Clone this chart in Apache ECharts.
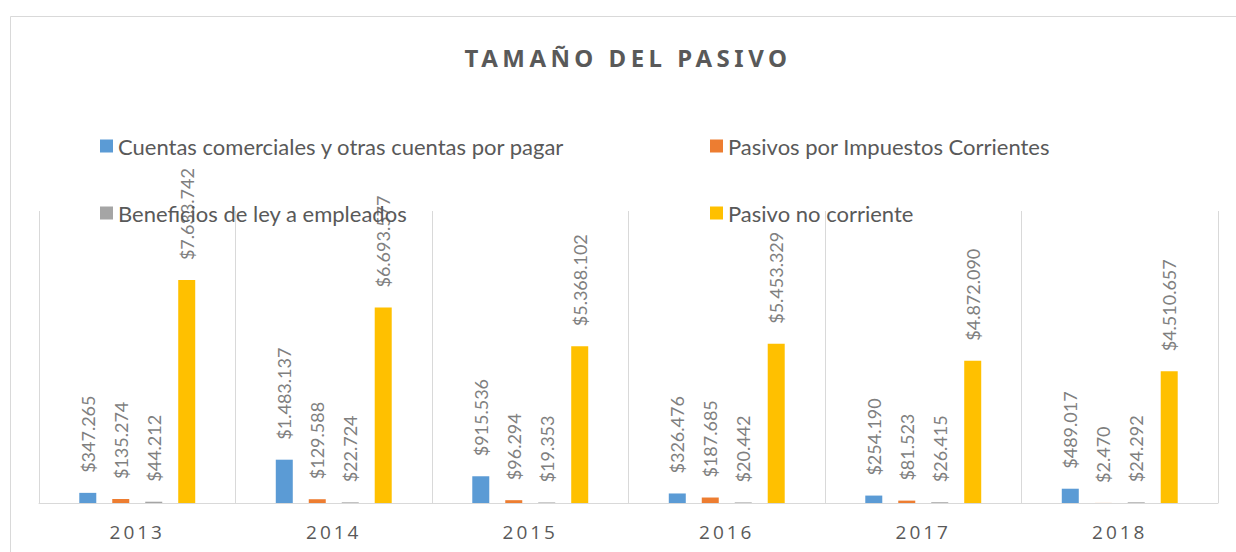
<!DOCTYPE html>
<html>
<head>
<meta charset="utf-8">
<script src="https://cdn.jsdelivr.net/npm/echarts@6/dist/echarts.min.js"></script>
<style>
  html, body { margin: 0; padding: 0; background: #ffffff; }
  #chart { width: 1236px; height: 552px; }
  svg text[style*="Noto Sans"], svg text[font-family*="Noto Sans"] { letter-spacing: 4.5px; }
  svg text[style*="Open Sans"], svg text[font-family*="Open Sans"] { letter-spacing: 3px; }
</style>
</head>
<body>
<div id="chart"></div>
<script>
const years = ['2013', '2014', '2015', '2016', '2017', '2018'];
const seriesNames = [
  'Cuentas comerciales y otras cuentas por pagar',
  'Pasivos por Impuestos Corrientes',
  'Beneficios de ley a empleados',
  'Pasivo no corriente'
];
const cuentasPorPagar = [347265, 1483137, 915536, 326476, 254190, 489017];
const impuestosCorrientes = [135274, 129588, 96294, 187685, 81523, 2470];
const beneficiosEmpleados = [44212, 22724, 19353, 20442, 26415, 24292];
const pasivoNoCorriente = [7633742, 6693577, 5368102, 5453329, 4872090, 4510657];
const seriesColors = ['#5b9bd5', '#ed7d31', '#a5a5a5', '#ffc000'];

function fmt(v) {
  return '$' + String(Math.round(v)).replace(/\B(?=(\d{3})+(?!\d))/g, '.');
}

const allData = [cuentasPorPagar, impuestosCorrientes, beneficiosEmpleados, pasivoNoCorriente];

const chart = echarts.init(document.getElementById('chart'), null, { renderer: 'svg' });

const series = allData.map((d, i) => ({
  name: seriesNames[i],
  type: 'bar',
  data: d,
  barWidth: 17,
  barGap: '94%',
  itemStyle: { color: seriesColors[i] },
  label: {
    show: true,
    position: 'top',
    distance: 20,
    rotate: 90,
    align: 'left',
    verticalAlign: 'middle',
    fontFamily: 'Lato',
    fontSize: 18,
    color: '#7f7f7f',
    formatter: p => fmt(p.value)
  }
}));

const legendCommon = {
  orient: 'vertical',
  icon: 'rect',
  itemWidth: 13,
  itemHeight: 13,
  itemGap: 45,
  textStyle: { fontFamily: 'Lato', fontSize: 22, color: '#595959', lineHeight: 22, padding: [0, 0, 0, 0] },
  padding: 0,
  selectedMode: true
};

chart.setOption({
  animation: false,
  backgroundColor: '#ffffff',
  title: {
    text: 'TAMAÑO DEL PASIVO',
    left: 623,
    textAlign: 'center',
    top: 40,
    textStyle: { fontFamily: 'Noto Sans', fontWeight: 'bold', fontSize: 24, color: '#595959' }
  },
  legend: [
    Object.assign({}, legendCommon, { left: 100, top: 135, data: [seriesNames[0], seriesNames[2]] }),
    Object.assign({}, legendCommon, { left: 710, top: 135, data: [seriesNames[1], seriesNames[3]] })
  ],
  grid: { left: 39, right: 18, top: 211, bottom: 49, containLabel: false },
  xAxis: {
    type: 'category',
    data: years,
    axisLine: { show: true, lineStyle: { color: '#d9d9d9', width: 1 } },
    axisTick: { show: false },
    splitLine: { show: true, lineStyle: { color: '#d9d9d9', width: 1 } },
    axisLabel: { fontFamily: 'Open Sans', fontSize: 19, color: '#595959', margin: 19 }
  },
  yAxis: {
    type: 'value',
    min: 0,
    max: 10000000,
    show: false,
    splitLine: { show: false }
  },
  graphic: [{
    type: 'rect',
    shape: { x: 10.5, y: 16.5, width: 1400, height: 700 },
    style: { fill: 'none', stroke: '#d9d9d9', lineWidth: 1 },
    silent: true,
    z: -10
  }],
  series: series
});
</script>
</body>
</html>
